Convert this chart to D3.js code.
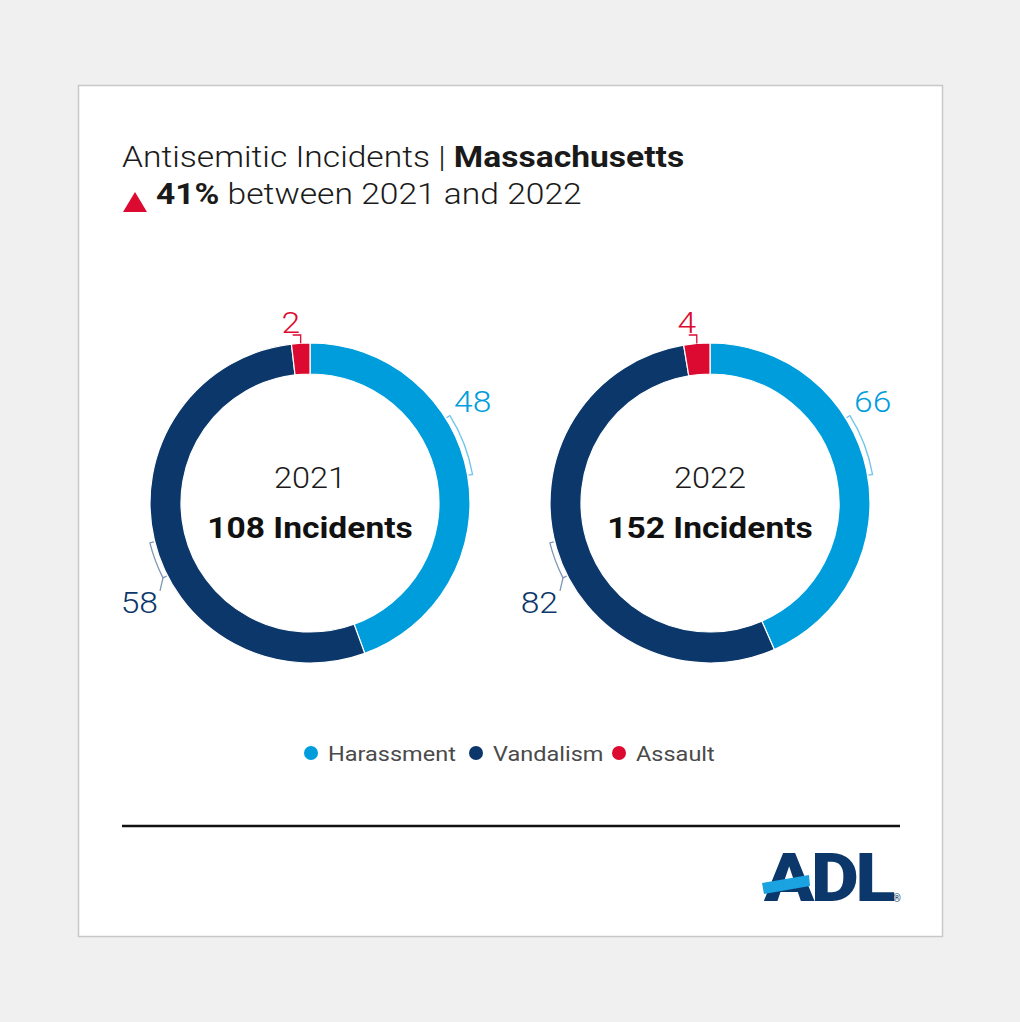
<!DOCTYPE html>
<html>
<head>
<meta charset="utf-8">
<script src="https://cdn.jsdelivr.net/npm/d3@7/dist/d3.min.js"></script>
<style>
  html, body { margin: 0; padding: 0; background: #f0f0f0; }
  svg { display: block; font-family: Roboto, "Noto Sans", sans-serif; }
</style>
</head>
<body>
<svg id="chart" width="1020" height="1022"></svg>
<script>
// ---- data ----
const categories = ["Harassment", "Vandalism", "Assault"];
const years = ["2021", "2022"];
const values2021 = [48, 58, 2];
const values2022 = [66, 82, 4];
const totals = [108, 152];
const titleLight = "Antisemitic Incidents | ";
const titleBold = "Massachusetts";
const changePct = "41%";
const changeText = " between 2021 and 2022";
const colors = ["#009ddc", "#0b376b", "#dc0a30"];
const bracketColors = ["#6cc3ec", "#7f97b4", "#dc0a30"];

const SX = 1.12; // horizontal stretch of the reference typography
const svg = d3.select("#chart");

function txt(parent, x, y) {
  return parent.append("text").attr("transform", `translate(${x},${y}) scale(${SX},1)`);
}

// card
svg.append("rect").attr("x", 0).attr("y", 0).attr("width", 1020).attr("height", 1022).attr("fill", "#f0f0f0");
svg.append("rect").attr("x", 78.5).attr("y", 85.5).attr("width", 864).attr("height", 851)
  .attr("fill", "#ffffff").attr("stroke", "#c8c8c8").attr("stroke-width", 1.5);

// title
const t1 = txt(svg, 122, 167).attr("font-size", 30).attr("fill", "#1a1a1a");
t1.append("tspan").attr("font-weight", 300).text(titleLight);
t1.append("tspan").attr("font-weight", 700).text(titleBold);

svg.append("path").attr("d", "M123,212 L135,192 L147,212 Z").attr("fill", colors[2]);
const t2 = txt(svg, 156, 204).attr("font-size", 30).attr("fill", "#1a1a1a");
t2.append("tspan").attr("font-weight", 700).text(changePct);
t2.append("tspan").attr("font-weight", 300).text(changeText);

// donuts
const pie = d3.pie().sort(null).value(d => d);
const outerR = 160, innerR = 129;
const arc = d3.arc().innerRadius(innerR).outerRadius(outerR);
const xCenter = d3.scalePoint().domain(years).range([310, 710]);
const cy = 503;
const deg = Math.PI / 180;

function polar(r, a) { return [r * Math.sin(a), -r * Math.cos(a)]; }

[values2021, values2022].forEach((vals, i) => {
  const cx = xCenter(years[i]);
  const g = svg.append("g").attr("transform", `translate(${cx},${cy})`);
  const arcs = pie(vals);
  g.selectAll("path.seg").data(arcs).join("path")
    .attr("class", "seg")
    .attr("d", arc)
    .attr("fill", (d, j) => colors[j])
    .attr("stroke", "#ffffff").attr("stroke-width", 1.2);

  // center labels
  txt(g, 0, -15).attr("text-anchor", "middle")
    .attr("font-size", 29).attr("font-weight", 300).attr("fill", "#1a1a1a").text(years[i]);
  txt(g, 0, 35).attr("text-anchor", "middle")
    .attr("font-size", 30).attr("font-weight", 700).attr("fill", "#111").text(totals[i] + " Incidents");

  const br = 165;
  function bracket(a0, a1, color) {
    const p0o = polar(br, a0), p0i = polar(br - 4, a0);
    const p1o = polar(br, a1), p1i = polar(br - 4, a1);
    const path = d3.path();
    path.moveTo(p0i[0], p0i[1]);
    path.lineTo(p0o[0], p0o[1]);
    path.arc(0, 0, br, a0 - Math.PI / 2, a1 - Math.PI / 2, a1 < a0);
    path.lineTo(p1i[0], p1i[1]);
    g.append("path").attr("d", path.toString()).attr("fill", "none")
      .attr("stroke", color).attr("stroke-width", 1.3);
  }

  // harassment
  bracket(58 * deg, 80 * deg, bracketColors[0]);
  txt(g, 144, -91).attr("font-size", 30).attr("font-weight", 300)
    .attr("fill", colors[0]).text(vals[0]);

  // vandalism
  bracket(256 * deg, 243 * deg, bracketColors[1]);
  const pv = polar(br, 243 * deg);
  g.append("path").attr("d", `M${pv[0]},${pv[1]} L${pv[0] - 3},${pv[1] + 13}`)
    .attr("fill", "none").attr("stroke", bracketColors[1]).attr("stroke-width", 1.3);
  txt(g, -152, 110).attr("font-size", 30).attr("font-weight", 300).attr("text-anchor", "end")
    .attr("fill", colors[1]).text(vals[1]);

  // assault
  const am = (arcs[2].startAngle + arcs[2].endAngle) / 2;
  const pa = polar(outerR, am);
  g.append("path").attr("d", `M${pa[0] - 8},${-168} L${pa[0]},${-168} L${pa[0]},${pa[1]}`)
    .attr("fill", "none").attr("stroke", bracketColors[2]).attr("stroke-width", 1.3);
  txt(g, pa[0] - 10, -170).attr("font-size", 30).attr("font-weight", 300).attr("text-anchor", "middle")
    .attr("fill", colors[2]).text(vals[2]);
});

// legend
const legendX = [311, 476, 619];
const lg = svg.append("g");
categories.forEach((c, j) => {
  lg.append("circle").attr("cx", legendX[j]).attr("cy", 753).attr("r", 7).attr("fill", colors[j]);
  txt(lg, legendX[j] + 17, 761).attr("font-size", 21)
    .attr("fill", "#4a4a4a").text(c);
});

// divider
svg.append("line").attr("x1", 122).attr("x2", 900).attr("y1", 826).attr("y2", 826)
  .attr("stroke", "#111").attr("stroke-width", 2.5);

// logo
txt(svg, 764, 901).attr("font-size", 66).attr("font-weight", 900)
  .attr("letter-spacing", -3).attr("fill", "#0b376b").text("ADL");
svg.append("path").attr("d", "M762,883 L809,875 L810,886 L764,894 Z").attr("fill", "#1aa3e0");
svg.append("text").attr("x", 893).attr("y", 902).attr("font-size", 10).attr("fill", "#0b376b").text("®");
</script>
</body>
</html>
